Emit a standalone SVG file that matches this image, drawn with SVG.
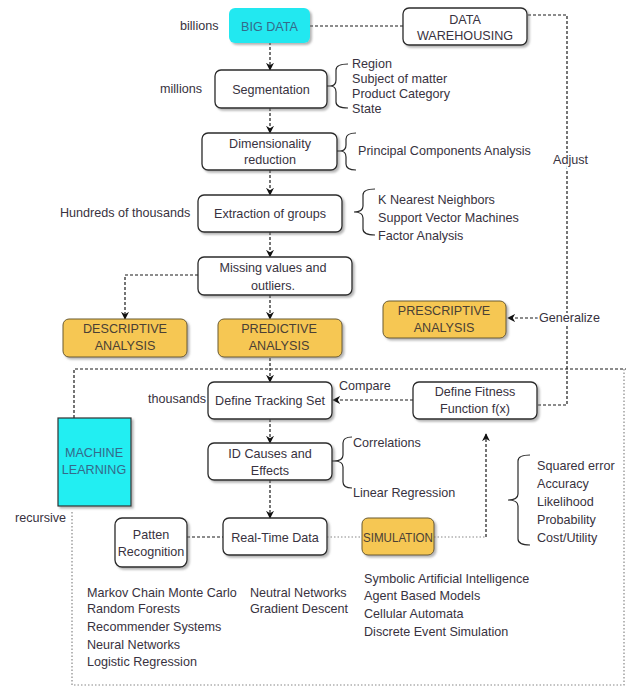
<svg xmlns="http://www.w3.org/2000/svg" width="633" height="688" viewBox="0 0 633 688">
<defs>
<style>
text{font-family:"Liberation Sans",Arial,sans-serif;font-size:12.6px;fill:#383240}
.c{text-anchor:middle}
.bx{fill:#fff;stroke:#2a2a2a;stroke-width:1.3}
.or{fill:#f6c752;stroke:#6a5a30;stroke-width:1}
.ot{fill:#4a4035}
.cy{fill:#22e8f0}
.ct{fill:#356a8a}
.dash{fill:none;stroke:#1a1a1a;stroke-width:1.2;stroke-dasharray:3 2}
.dot{fill:none;stroke:#888;stroke-width:1.2;stroke-dasharray:1.5 2}
.br{fill:none;stroke:#2a2a2a;stroke-width:1.2}
.halo{stroke:#fff;stroke-width:4;paint-order:stroke}
</style>
<filter id="sh" x="-10%" y="-10%" width="130%" height="150%">
<feDropShadow dx="2" dy="2" stdDeviation="1.2" flood-color="#777" flood-opacity="0.55"/>
</filter>
<marker id="ah" viewBox="0 0 10 10" refX="9" refY="5" markerWidth="8" markerHeight="8" markerUnits="userSpaceOnUse" orient="auto">
<path d="M0,0 L10,5 L0,10 L3,5 z" fill="#111"/>
</marker>
</defs>
<rect width="633" height="688" fill="#fff"/>

<g id="connectors">
<path class="dash" d="M310,26 H403"/>
<path class="dash" d="M528,15 H567 V405 H537"/>
<path class="dash" d="M270,42 V70" marker-end="url(#ah)"/>
<path class="dash" d="M270,108 V133" marker-end="url(#ah)"/>
<path class="dash" d="M270,170 V195" marker-end="url(#ah)"/>
<path class="dash" d="M270,232 V257" marker-end="url(#ah)"/>
<path class="dash" d="M198,275 H125 V319" marker-end="url(#ah)"/>
<path class="dash" d="M270,295 V319" marker-end="url(#ah)"/>
<path class="dash" d="M270,358 V382" marker-end="url(#ah)"/>
<path class="dash" d="M538,318 H508" marker-end="url(#ah)"/>
<path class="dash" d="M413,400 H333" marker-end="url(#ah)"/>
<path class="dash" d="M270,419 V443" marker-end="url(#ah)"/>
<path class="dash" d="M270,480 V518" marker-end="url(#ah)"/>
<path class="dash" d="M187,537 H223"/>
<path class="dot" d="M327,537 H362"/>
<path class="dot" d="M434,537 H486"/>
<path class="dash" d="M486,537 V434" marker-end="url(#ah)"/>
<path class="dash" d="M74,418 V369 H626"/>
<path class="dot" d="M72,512 V685 H624 V369"/>
</g>

<g id="big-data">
<rect class="cy" x="229" y="8" width="81" height="35" rx="6" filter="url(#sh)"/>
<text class="c ct" x="269.5" y="30.5">BIG DATA</text>
</g>
<g id="billions"><text x="180" y="29.5">billions</text></g>

<g id="data-warehousing">
<rect class="bx" x="403" y="8" width="124" height="37" rx="6" filter="url(#sh)"/>
<text class="c" x="465" y="24">DATA</text>
<text class="c" x="465" y="40">WAREHOUSING</text>
</g>

<g id="segmentation">
<rect class="bx" x="215" y="70" width="112" height="38" rx="6" filter="url(#sh)"/>
<text class="c" x="271" y="93.5">Segmentation</text>
</g>
<g id="millions"><text x="160" y="92.5">millions</text></g>
<g id="seg-brace">
<path class="br" d="M327,86 H330 M348,64 Q336,64 336,70 V80 Q336,86 330,86 Q336,86 336,92 V102 Q336,108 348,108"/>
<text x="352" y="67.5">Region</text>
<text x="352" y="82.5">Subject of matter</text>
<text x="352" y="97.5">Product Category</text>
<text x="352" y="112.5">State</text>
</g>

<g id="dimensionality">
<rect class="bx" x="202" y="133" width="135" height="37" rx="6" filter="url(#sh)"/>
<text class="c" x="270" y="147.5">Dimensionality</text>
<text class="c" x="270" y="163.5">reduction</text>
</g>
<g id="dim-brace">
<path class="br" d="M337,151 H340 M356,133 Q346,133 346,139 V145 Q346,151 340,151 Q346,151 346,157 V164 Q346,170 356,170"/>
<text x="358" y="154.5">Principal Components Analysis</text>
</g>

<g id="adjust"><text class="halo" x="553" y="164">Adjust</text></g>

<g id="extraction">
<rect class="bx" x="198" y="195" width="144" height="37" rx="6" filter="url(#sh)"/>
<text class="c" x="270" y="217.5">Extraction of groups</text>
</g>
<g id="hundreds"><text x="60" y="216.5">Hundreds of thousands</text></g>
<g id="ext-brace">
<path class="br" d="M375,189 Q363,189 363,195 V206 Q363,212 354,212 Q363,212 363,218 V229 Q363,235 375,235"/>
<text x="378" y="203.5">K Nearest Neighbors</text>
<text x="378" y="221.5">Support Vector Machines</text>
<text x="378" y="239.5">Factor Analysis</text>
</g>

<g id="missing-values">
<rect class="bx" x="198" y="257" width="154" height="38" rx="6" filter="url(#sh)"/>
<text class="c" x="273" y="271.5">Missing values and</text>
<text class="c" x="273" y="289.5">outliers.</text>
</g>

<g id="descriptive">
<rect class="or" x="63" y="319" width="124" height="38" rx="6" filter="url(#sh)"/>
<text class="c ot" x="125" y="332.5">DESCRIPTIVE</text>
<text class="c ot" x="125" y="349.5">ANALYSIS</text>
</g>

<g id="predictive">
<rect class="or" x="218" y="319" width="124" height="38" rx="6" filter="url(#sh)"/>
<text class="c ot" x="279" y="332.5">PREDICTIVE</text>
<text class="c ot" x="279" y="349.5">ANALYSIS</text>
</g>

<g id="prescriptive">
<rect class="or" x="383" y="301" width="123" height="37" rx="6" filter="url(#sh)"/>
<text class="c ot" x="444" y="314.5">PRESCRIPTIVE</text>
<text class="c ot" x="444" y="331.5">ANALYSIS</text>
</g>
<g id="generalize"><text class="halo" x="539" y="322">Generalize</text></g>

<g id="machine-learning">
<rect x="58" y="418" width="73" height="88" fill="#22eef2" stroke="#333" stroke-width="1.2" filter="url(#sh)"/>
<text class="c ct" x="94" y="456.5">MACHINE</text>
<text class="c ct" x="94" y="473.5">LEARNING</text>
</g>
<g id="recursive"><text x="15" y="521.5">recursive</text></g>

<g id="tracking-set">
<rect class="bx" x="208" y="382" width="124" height="37" rx="6" filter="url(#sh)"/>
<text class="c" x="270" y="404.5">Define Tracking Set</text>
</g>
<g id="thousands"><text x="148" y="402.5">thousands</text></g>
<g id="compare"><text x="339" y="389.5">Compare</text></g>

<g id="fitness">
<rect class="bx" x="413" y="382" width="124" height="37" rx="6" filter="url(#sh)"/>
<text class="c" x="475" y="395.5">Define Fitness</text>
<text class="c" x="475" y="412.5">Function f(x)</text>
</g>

<g id="id-causes">
<rect class="bx" x="208" y="443" width="124" height="37" rx="6" filter="url(#sh)"/>
<text class="c" x="270" y="457.5">ID Causes and</text>
<text class="c" x="270" y="474.5">Effects</text>
</g>
<g id="id-brace">
<path class="br" d="M332,461 H334 M352,437 Q343,437 343,443 V455 Q343,461 334,461 Q343,461 343,467 V482 Q343,488 352,488"/>
<text x="353" y="446.5">Correlations</text>
<text x="353" y="496.5">Linear Regression</text>
</g>

<g id="fitness-brace">
<path class="br" d="M530,455 Q518,455 518,461 V494 Q518,500 508,500 Q518,500 518,506 V539 Q518,545 530,545"/>
<text x="537" y="469.5">Squared error</text>
<text x="537" y="487.5">Accuracy</text>
<text x="537" y="505.5">Likelihood</text>
<text x="537" y="523.5">Probability</text>
<text x="537" y="541.5">Cost/Utility</text>
</g>

<g id="real-time">
<rect class="bx" x="223" y="518" width="104" height="37" rx="6" filter="url(#sh)"/>
<text class="c" x="275" y="541.5">Real-Time Data</text>
</g>

<g id="patten">
<rect class="bx" x="115" y="518" width="72" height="49" rx="7" filter="url(#sh)"/>
<text class="c" x="151" y="538.5">Patten</text>
<text class="c" x="151" y="555.5">Recognition</text>
</g>

<g id="simulation">
<rect class="or" x="362" y="518" width="72" height="37" rx="6" filter="url(#sh)"/>
<text class="c ot" x="398" y="541.5" textLength="70" lengthAdjust="spacingAndGlyphs">SIMULATION</text>
</g>

<g id="ml-methods">
<text x="87" y="596.5">Markov Chain Monte Carlo</text>
<text x="87" y="613">Random Forests</text>
<text x="87" y="631">Recommender Systems</text>
<text x="87" y="648.5">Neural Networks</text>
<text x="87" y="666">Logistic Regression</text>
</g>
<g id="nn-methods">
<text x="250" y="596.5">Neutral Networks</text>
<text x="250" y="613">Gradient Descent</text>
</g>
<g id="sim-methods">
<text x="364" y="582.5">Symbolic Artificial Intelligence</text>
<text x="364" y="599.5">Agent Based Models</text>
<text x="364" y="618">Cellular Automata</text>
<text x="364" y="636">Discrete Event Simulation</text>
</g>
</svg>
